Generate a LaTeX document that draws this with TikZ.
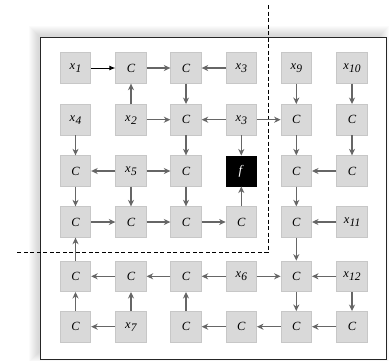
\documentclass[tikz,border=0pt]{standalone}
\usepackage{fontspec}
\setmainfont{Liberation Serif}
\usetikzlibrary{arrows.meta}
\newcommand\xv[1]{\textit{x}\kern0.3pt\raisebox{-3pt}{\fontsize{11.5}{13}\selectfont\textit{#1}}}
\newcommand\cv{\textit{C}}
\begin{document}
\begin{tikzpicture}[x=1pt,y=-1pt,
  cell/.style={draw=black!22,fill=black!15,line width=0.8pt,minimum size=30.5pt,inner sep=0pt,font=\fontsize{12.5}{14}\selectfont},
  fcell/.style={draw=black,fill=black,text=white,minimum size=30.5pt,inner sep=0pt,font=\fontsize{13}{14}\selectfont},
  ga/.style={draw=black!60,line width=1.3pt,-{Stealth[length=6.5pt,width=6pt,inset=2pt]}},
  ba/.style={draw=black,line width=0.9pt,-{Latex[length=6pt,width=5pt]}},
  frame/.style={draw=black!85,line width=0.8pt,fill=white},
  cut/.style={draw=black,line width=0.7pt,dash pattern=on 4pt off 2.5pt}
]
\useasboundingbox (0,0) rectangle (390,360);
% soft shadow
\foreach \i in {1,...,10}{
  \fill[black,opacity=0.015] (40.5-\i-2,37.5-\i-2) rectangle (386+\i-7,359+\i-7);
}
\draw[frame] (40.5,37.5) rectangle (386,359);
% columns / rows
\def\ca{75.5}\def\cb{131}\def\cc{186}\def\cd{241.3}\def\ce{296.3}\def\cf{352}
\def\ra{68}\def\rb{119.7}\def\rc{171}\def\rd{222}\def\re{276.3}\def\rf{326.7}
% row 1
\node[cell] (n11) at (\ca,\ra) {\xv{1}};
\node[cell] (n12) at (\cb,\ra) {\cv};
\node[cell] (n13) at (\cc,\ra) {\cv};
\node[cell] (n14) at (\cd,\ra) {\xv{3}};
\node[cell] (n15) at (\ce,\ra) {\xv{9}};
\node[cell] (n16) at (\cf,\ra) {\xv{10}};
% row 2
\node[cell] (n21) at (\ca,\rb) {\xv{4}};
\node[cell] (n22) at (\cb,\rb) {\xv{2}};
\node[cell] (n23) at (\cc,\rb) {\cv};
\node[cell] (n24) at (\cd,\rb) {\xv{3}};
\node[cell] (n25) at (\ce,\rb) {\cv};
\node[cell] (n26) at (\cf,\rb) {\cv};
% row 3
\node[cell] (n31) at (\ca,\rc) {\cv};
\node[cell] (n32) at (\cb,\rc) {\xv{5}};
\node[cell] (n33) at (\cc,\rc) {\cv};
\node[fcell] (n34) at (\cd,\rc) {\textit{f}};
\node[cell] (n35) at (\ce,\rc) {\cv};
\node[cell] (n36) at (\cf,\rc) {\cv};
% row 4
\node[cell] (n41) at (\ca,\rd) {\cv};
\node[cell] (n42) at (\cb,\rd) {\cv};
\node[cell] (n43) at (\cc,\rd) {\cv};
\node[cell] (n44) at (\cd,\rd) {\cv};
\node[cell] (n45) at (\ce,\rd) {\cv};
\node[cell] (n46) at (\cf,\rd) {\xv{11}};
% row 5
\node[cell] (n51) at (\ca,\re) {\cv};
\node[cell] (n52) at (\cb,\re) {\cv};
\node[cell] (n53) at (\cc,\re) {\cv};
\node[cell] (n54) at (\cd,\re) {\xv{6}};
\node[cell] (n55) at (\ce,\re) {\cv};
\node[cell] (n56) at (\cf,\re) {\xv{12}};
% row 6
\node[cell] (n61) at (\ca,\rf) {\cv};
\node[cell] (n62) at (\cb,\rf) {\xv{7}};
\node[cell] (n63) at (\cc,\rf) {\cv};
\node[cell] (n64) at (\cd,\rf) {\cv};
\node[cell] (n65) at (\ce,\rf) {\cv};
\node[cell] (n66) at (\cf,\rf) {\cv};
% dashed cut
\coordinate (cutTop) at (268,5);
\coordinate (cutCorner) at (268,252);
\coordinate (cutLeft) at (15,252);
\draw[cut] (cutTop) -- (cutCorner) -- (cutLeft);
% edges
\draw[ba] (n11) -- (n12);
\foreach \a/\b in {n12/n13,n14/n13,n22/n12,n13/n23,n15/n25,n16/n26,
  n21/n31,n22/n23,n24/n23,n24/n25,n23/n33,n24/n34,n25/n35,n26/n36,
  n32/n31,n32/n33,n36/n35,
  n31/n41,n32/n42,n33/n43,n44/n34,n35/n45,
  n41/n42,n42/n43,n43/n44,n46/n45,n45/n55,
  n51/n41,n52/n51,n53/n52,n54/n53,n54/n55,n56/n55,n55/n65,n56/n66,
  n61/n51,n62/n61,n62/n52,n63/n53,n64/n63,n65/n64,n66/n65}{
  \draw[ga] (\a) -- (\b);
}
\end{tikzpicture}
\end{document}
